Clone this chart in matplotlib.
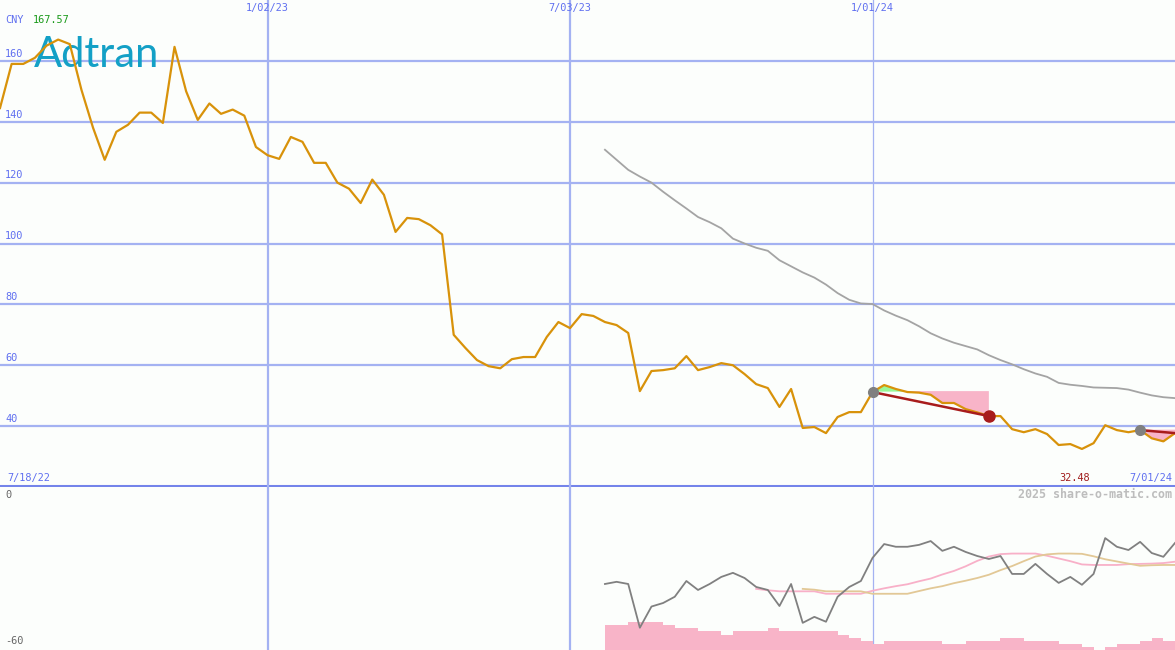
import numpy as np
import pandas as pd
import matplotlib
matplotlib.use('Agg')
import matplotlib.pyplot as plt
import matplotlib.transforms as mtransforms

# weekly closes, 7/25/22 .. 7/01/24
DATES = pd.date_range('2022-07-25', periods=102, freq='W-MON')
PRICE = [144.5, 159, 159, 161, 165, 167, 165.5, 150.5, 138, 127.5,
         136.7, 139, 143, 143, 139.6, 164.6, 150, 140.6, 146, 142.6,
         144, 142, 131.7, 129, 127.8, 135, 133.4, 126.5, 126.5, 120,
         118, 113.3, 121, 116, 103.8, 108.4, 108, 106, 103, 70,
         65.7, 61.7, 59.7, 59, 62, 62.7, 62.7, 69.3, 74.2, 72.2,
         76.8, 76.2, 74.2, 73.2, 70.6, 51.5, 58.1, 58.4, 59, 63,
         58.4, 59.4, 60.7, 60, 57.1, 53.8, 52.5, 46.3, 52.2, 39.4,
         39.7, 37.7, 43, 44.6, 44.6, 51.2, 53.5, 52.2, 51.2, 51,
         50.3, 47.6, 47.6, 45.6, 44.5, 43.3, 43.3, 39, 38, 39,
         37.4, 33.8, 34.1, 32.5, 34.4, 40.3, 38.7, 38, 38.7, 36,
         35, 37.7]
HIGH, LOW = 167.57, 32.48
# slow moving average, from week 52
MA_START = 52
MA = [130.8, 127.5, 124.2, 122, 120, 117, 114.2, 111.5, 108.7, 107,
      105, 101.6, 100, 98.6, 97.6, 94.5, 92.5, 90.5, 88.8, 86.5,
      83.7, 81.5, 80.3, 80.1, 78, 76.3, 74.8, 72.8, 70.5, 68.8,
      67.4, 66.3, 65.2, 63.3, 61.7, 60.3, 58.7, 57.3, 56.2, 54.2,
      53.6, 53.2, 52.7, 52.6, 52.5, 52, 51, 50.1, 49.5, 49.2]

# lower panel: oscillator + two smoothings + volume-like bars
OSC_START = 52
OSC = [-35.7, -34.9, -35.7, -51.8, -44, -42.7, -40.4, -34.6, -37.9, -35.7,
       -33.1, -31.6, -33.5, -36.8, -37.9, -43.8, -35.7, -50, -47.8, -49.6,
       -40.4, -36.8, -34.6, -26.1, -21, -22, -22, -21.3, -19.9, -23.5,
       -22, -23.9, -25.4, -26.5, -25.4, -32, -32, -28.3, -32, -35.3,
       -33.1, -36, -32, -18.8, -22, -23.2, -20.2, -24.3, -25.7, -20.6]
PINK_START = 65
PINK = [-37.5, -38, -38.4, -38.4, -38.4, -38.4, -39.3, -39.3, -39.3, -39.3,
        -38.2, -37.3, -36.5, -35.8, -34.7, -33.7, -32.2, -30.9, -29.2, -27.2,
        -25.6, -24.7, -24.5, -24.5, -24.5, -25.3, -26.3, -27.3, -28.5, -28.7,
        -28.7, -28.7, -28.4, -28.3, -28.2, -28, -27.5]
TAN_START = 69
TAN = [-37.5, -37.8, -38.4, -38.4, -38.4, -38.4, -39.3, -39.3, -39.3, -39.3,
       -38.3, -37.3, -36.5, -35.4, -34.5, -33.5, -32.3, -30.6, -29.1, -27.3,
       -25.6, -24.8, -24.5, -24.5, -24.6, -25.5, -26.6, -27.4, -28.2, -29,
       -28.8, -28.7, -28.7]
VOL_START = 52
VOL = [8.3, 8.3, 9.3, 9.3, 9.3, 8.3, 7.3, 7.3, 6.3, 6.3,
       5, 6.3, 6.3, 6.3, 7.3, 6.3, 6.3, 6.3, 6.3, 6.3,
       5, 4, 3, 2, 3, 3, 3, 3, 3, 2,
       2, 3, 3, 3, 4, 4, 3, 3, 3, 2,
       2, 1, 0, 1, 2, 2, 3, 4, 3, 3]
VOL_TOP = 163 / 3      # volume units filling the whole lower panel

# trend markers: (start week, end week, start level)
TRENDS = [(75, 85, 51.5), (98, 101, 39.0)]
VLINES = ['2023-01-02', '2023-07-03', '2024-01-01']
VLABELS = ['1/02/23', '7/03/23', '1/01/24']
YTICKS = [160, 140, 120, 100, 80, 60, 40]

BLUE_GRID = '#a4b2f2'
BLUE_TXT = '#5f6ff0'
ORANGE = '#d8920a'
BG = '#fcfefc'
MONO = 'DejaVu Sans Mono'
FS = 7.4

W, H = 1175, 650
fig = plt.figure(figsize=(W / 100, H / 100), dpi=100, facecolor=BG)
ax = fig.add_axes([0, 163 / H, 1, 487 / H], facecolor=BG)
bx = fig.add_axes([0, 0, 1, 163 / H], facecolor=BG)
for a in (ax, bx):
    for s in a.spines.values():
        s.set_visible(False)
    a.set_xticks([]); a.set_yticks([])

x = np.array(DATES)
price = np.array(PRICE)

# grid
for v in YTICKS:
    ax.axhline(v, color=BLUE_GRID, lw=1.6, zorder=1)
ax.axhline(20.3, color='#7484ea', lw=2.2, zorder=1)
for d, lab in zip(VLINES, VLABELS):
    lw = 0.9 if d == VLINES[-1] else 1.6
    for a in (ax, bx):
        a.axvline(pd.Timestamp(d), color=BLUE_GRID, lw=lw, zorder=1)
    ax.text(pd.Timestamp(d), 177.5, lab, ha='center', va='center',
            fontsize=FS, family=MONO, color=BLUE_TXT)
ax.set_ylim(20, 180)

tr = mtransforms.blended_transform_factory(ax.transAxes, ax.transData)
for v in YTICKS:
    ax.text(5 / W, v + 0.7, str(v), transform=tr, ha='left', va='bottom',
            fontsize=FS, family=MONO, color=BLUE_TXT)

# logo
ax.text(34 / W, 1 - 67 / 487, 'Adtran', transform=ax.transAxes, ha='left',
        va='baseline', fontsize=30, family='Lato', color='#13a0c6', zorder=2)

# moving average + price
ax.plot(x[MA_START:], MA, color='#a4a4a4', lw=1.3, zorder=3)

for i0, i1, lev in TRENDS:
    xs, ps = x[i0:i1 + 1], price[i0:i1 + 1]
    ax.fill_between(xs, ps, lev, where=ps >= lev, interpolate=True,
                    color='#98f898', lw=0, zorder=2)
    ax.fill_between(xs, ps, lev, where=ps <= lev, interpolate=True,
                    color='#f8b4c8', lw=0, zorder=2)

ax.plot(x, price, color=ORANGE, lw=1.6, zorder=4)

for i0, i1, lev in TRENDS:
    ax.plot([x[i0], x[i1]], [price[i0], price[i1]], color='#a81c1c', lw=1.8, zorder=5)
    ax.plot(x[i0], price[i0], 'o', color='#808080', ms=7, zorder=6)
ax.plot(x[TRENDS[0][1]], price[TRENDS[0][1]], 'o', color='#a81c1c', ms=8, zorder=6)

# annotations
ax.text(5 / W, 1 - 20 / 487, 'CNY', transform=ax.transAxes, va='center',
        fontsize=FS, family=MONO, color=BLUE_TXT)
ax.text(33 / W, 1 - 20 / 487, '%.2f' % HIGH, transform=ax.transAxes,
        va='center', fontsize=FS, family=MONO, color='#1a9a1a')
ax.text(7 / W, 9 / 487, '7/18/22', transform=ax.transAxes, va='center',
        fontsize=FS, family=MONO, color=BLUE_TXT)
ax.text(1090 / W, 9 / 487, '%.2f' % LOW, transform=ax.transAxes, va='center',
        ha='right', fontsize=FS, family=MONO, color='#a01c1c')
ax.text(1172 / W, 9 / 487, '7/01/24', transform=ax.transAxes, va='center',
        ha='right', fontsize=FS, family=MONO, color=BLUE_TXT)

# lower panel
bx.set_ylim(-60, 0)
vol_scale = 60 / VOL_TOP
bx.bar(x[VOL_START:VOL_START + len(VOL)], np.array(VOL) * vol_scale, bottom=-60,
       width=pd.Timedelta(days=7), align='edge', color='#f8b4c8', lw=0, zorder=1)
bx.plot(x[OSC_START:], OSC, color='#808080', lw=1.3, zorder=3)
bx.plot(x[PINK_START:], PINK, color='#f8b0c8', lw=1.3, zorder=2)
bx.plot(x[TAN_START:], TAN, color='#e2c896', lw=1.3, zorder=2)

bx.text(5 / W, 1 - 8 / 163, '0', transform=bx.transAxes, va='center',
        fontsize=FS, family=MONO, color='#666666')
bx.text(5 / W, 9 / 163, '-60', transform=bx.transAxes, va='center',
        fontsize=FS, family=MONO, color='#666666')
bx.text(1172 / W, 1 - 8 / 163, '2025 share-o-matic.com', transform=bx.transAxes,
        va='center', ha='right', fontsize=8.4, family=MONO, color='#bdbdbd',
        fontweight='bold')

for a in (ax, bx):
    a.set_xlim(DATES[0], DATES[-1])

fig.savefig('out.png', dpi=100, facecolor=BG)
